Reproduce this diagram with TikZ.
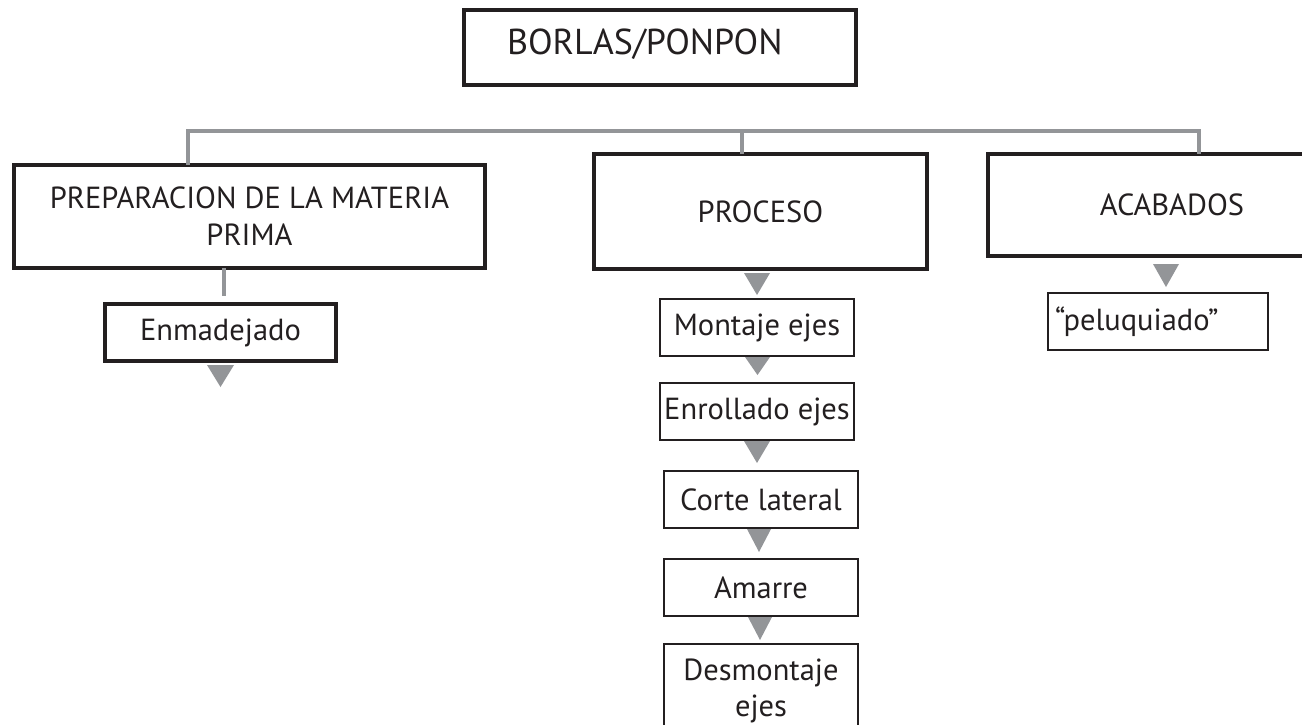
\documentclass[tikz,border=0pt]{standalone}
\usepackage{fontspec}
\setmainfont{PT Sans}
\usetikzlibrary{positioning}

\definecolor{ink}{RGB}{35,31,32}
\definecolor{linegrey}{RGB}{147,149,152}

\tikzstyle{hb} = [rectangle, draw=ink, line width=4pt, outer sep=0pt, inner sep=0pt, align=center, font=\fontsize{30.5}{37}\selectfont]
\tikzstyle{lb} = [rectangle, draw=ink, line width=2pt, outer sep=0pt, inner sep=0pt, minimum width=194pt, minimum height=57pt, align=center, font=\fontsize{30.5}{38}\selectfont]
\tikzstyle{gl} = [draw=linegrey, line width=4.5pt]
\tikzstyle{tri} = [fill=linegrey]

\begin{document}
\begin{tikzpicture}[x=1pt, y=-1pt, text=ink]
	\useasboundingbox (0,0) rectangle (1302,724);

	\node [hb, minimum width=392pt, minimum height=75pt, text width=306pt, align=left, text height=25pt, text depth=12pt, font=\fontsize{36}{44}\selectfont] (top) at (660,47.5) {BORLAS/PONPON};
	\node [hb, minimum width=471pt, minimum height=103pt] (prep) at (249.5,216.5) {PREPARACION DE LA MATERIA\\PRIMA};
	\node [hb, minimum width=333pt, minimum height=115pt] (proc) at (760.5,211.5) {PROCESO};
	\node [hb, minimum width=368pt, minimum height=102pt] (acab) at (1172,205) {ACABADOS};
	\node [hb, minimum width=231pt, minimum height=57pt] (enm) at (220.5,332.5) {Enmadejado};

	\node [lb] (mont) at (757,327.5) {Montaje ejes};
	\node [lb, below=27pt of mont] (enro) {Enrollado ejes};
	\node [lb, below=31pt of enro, xshift=4pt] (cort) {Corte lateral};
	\node [lb, below=31pt of cort] (amar) {Amarre};
	\node [lb, below=28pt of amar, minimum height=94pt, font=\fontsize{30.5}{36}\selectfont] (desm) {Desmontaje\\ejes};
	\node [lb, minimum width=220pt, text width=206pt, align=left] (pelu) at (1158,321.5) {“peluquiado”};

	\draw [gl] ([xshift=-61.5pt]prep.north) -- ++(0,-34) -| ([xshift=27pt]acab.north);
	\draw [gl] ([xshift=-18.5pt]proc.north) -- ++(0,-23);
	\draw [gl] ([xshift=-25.5pt]prep.south) -- ([xshift=3.5pt,yshift=8pt]enm.north);

	\fill [tri] ([xshift=-13.5pt,yshift=-4pt]enm.south) -- ++(27,0) -- ++(-13.5,22) -- cycle;
	\fill [tri] ([xshift=-16.5pt,yshift=-4pt]proc.south) -- ++(26,0) -- ++(-13,22) -- cycle;
	\fill [tri] ([xshift=-19pt,yshift=-8pt]acab.south) -- ++(26,0) -- ++(-13,23) -- cycle;
	\fill [tri] ([xshift=-12pt,yshift=-1pt]mont.south) -- ++(25,0) -- ++(-12.5,18) -- cycle;
	\fill [tri] ([xshift=-13pt,yshift=-1pt]enro.south) -- ++(26,0) -- ++(-13,22) -- cycle;
	\fill [tri] ([xshift=-14pt,yshift=-1pt]cort.south) -- ++(24,0) -- ++(-12,23) -- cycle;
	\fill [tri] ([xshift=-13pt,yshift=-1pt]amar.south) -- ++(24,0) -- ++(-12,23) -- cycle;

\end{tikzpicture}
\end{document}
